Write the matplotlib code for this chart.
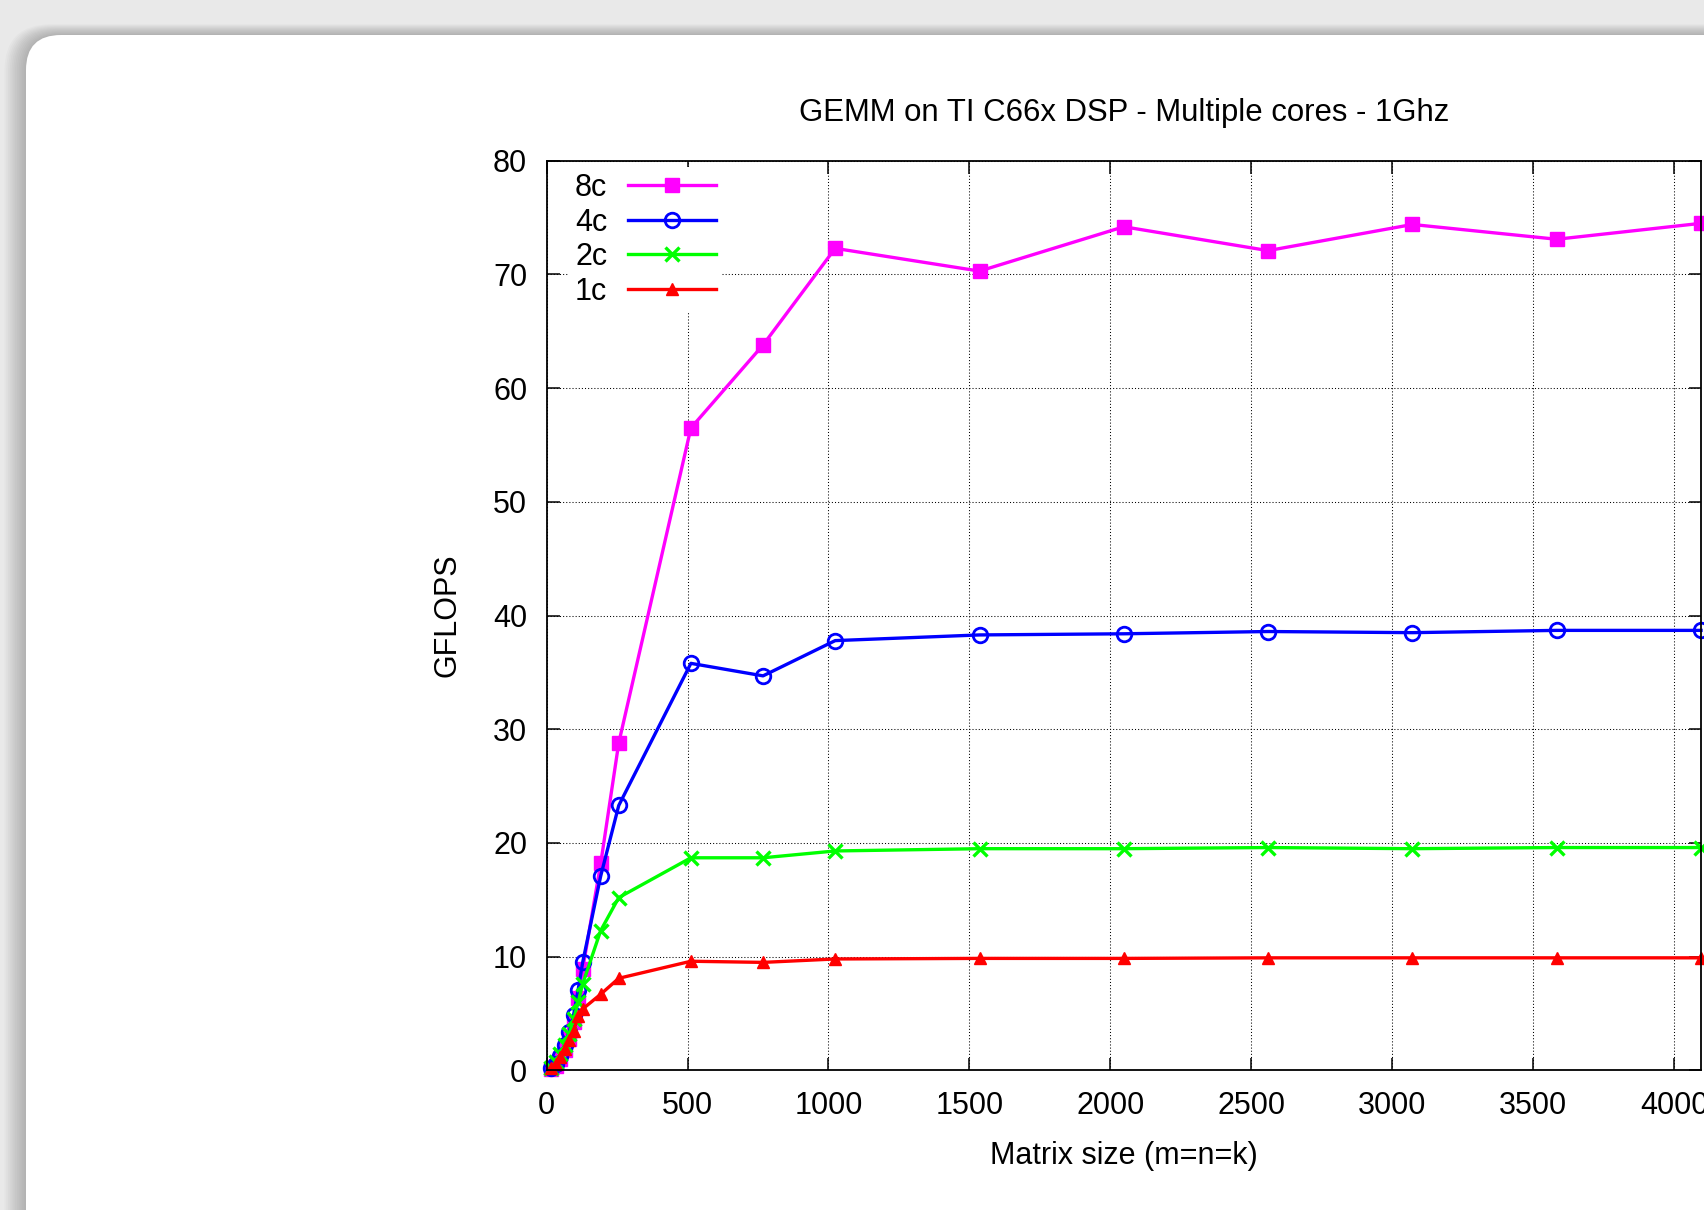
import numpy as np
import matplotlib.pyplot as plt
from matplotlib.patches import FancyBboxPatch

plt.rcParams['font.family'] = ['Liberation Sans', 'DejaVu Sans']

# matrix sizes (m=n=k)
sizes = [16, 32, 48, 64, 80, 96, 112, 128, 192, 256, 512, 768, 1024,
         1536, 2048, 2560, 3072, 3584, 4096]

# GFLOPS per core count
gf_8c = [0.1, 0.4, 1.0, 1.8, 2.8, 4.3, 6.4, 8.9, 18.2, 28.8, 56.5, 63.8, 72.3,
         70.3, 74.2, 72.1, 74.4, 73.1, 74.5]
gf_4c = [0.2, 0.6, 1.3, 2.2, 3.4, 4.9, 7.1, 9.5, 17.1, 23.3, 35.8, 34.7, 37.8,
         38.3, 38.4, 38.6, 38.5, 38.7, 38.7]
gf_2c = [0.2, 0.7, 1.4, 2.2, 3.2, 4.5, 6.0, 7.6, 12.3, 15.2, 18.7, 18.7, 19.3,
         19.5, 19.5, 19.6, 19.5, 19.6, 19.6]
gf_1c = [0.2, 0.6, 1.2, 1.9, 2.7, 3.5, 4.8, 5.4, 6.7, 8.1, 9.6, 9.5, 9.8,
         9.85, 9.85, 9.9, 9.9, 9.9, 9.9]

W, H = 1704, 1210
fs = 22
fig = plt.figure(figsize=(W / 100, H / 100), dpi=100, facecolor='#e9e9e9')

# page background: white rounded panel with soft shadow
bg = fig.add_axes([0, 0, 1, 1], zorder=-5)
bg.set_xlim(0, W)
bg.set_ylim(H, 0)
bg.axis('off')
for i in range(12, 0, -1):
    bg.add_patch(FancyBboxPatch((26 - i * 1.8, 35 - i * 0.9), 2000, 1500,
                                boxstyle='round,pad=0,rounding_size=%d' % (35 + i),
                                fc='black', ec='none', alpha=0.02))
bg.add_patch(FancyBboxPatch((26, 35), 2000, 1500,
                            boxstyle='round,pad=0,rounding_size=35',
                            fc='white', ec='none'))

x0, x1, y0, y1 = 546.6, 1701, 1070.4, 160.8
ax = fig.add_axes([x0 / W, 1 - y0 / H, (x1 - x0) / W, (y0 - y1) / H])
ax.set_facecolor('white')

lw = 2.4
ax.plot(sizes, gf_8c, color='#ff00ff', lw=lw, marker='s', ms=10, label='8c', clip_on=False)
ax.plot(sizes, gf_4c, color='#0000ff', lw=lw, marker='o', ms=10.5, mfc='none', mew=2.0, label='4c', clip_on=False)
ax.plot(sizes, gf_2c, color='#00ff00', lw=lw, marker='x', ms=10.5, mew=2.4, label='2c', clip_on=False)
ax.plot(sizes, gf_1c, color='#ff0000', lw=lw, marker='^', ms=8.5, label='1c', clip_on=False)

ax.set_xlim(0, 4096)
ax.set_ylim(0, 80)
ax.set_xticks(np.arange(0, 4001, 500))
ax.set_yticks(np.arange(0, 81, 10))
ax.grid(True, color='black', linestyle=(0, (1, 2)), linewidth=0.75)
ax.tick_params(direction='in', length=9, width=1.1, top=True, right=True,
               labelsize=fs, colors='black')
ax.tick_params(axis='x', pad=15)
ax.tick_params(axis='y', pad=14)
for s in ax.spines.values():
    s.set_linewidth(1.3)

ax.set_xlabel('Matrix size (m=n=k)', fontsize=fs, labelpad=14)
ax.set_ylabel('GFLOPS', fontsize=fs, labelpad=22)
fig.text((x0 + x1) / 2 / W, 1 - 113 / H, 'GEMM on TI C66x DSP - Multiple cores - 1Ghz',
         ha='center', va='center', fontsize=22.4)

leg = ax.legend(loc='upper left', bbox_to_anchor=(0.014, 1), markerfirst=False,
                frameon=True, fancybox=False, fontsize=fs, handlelength=2.9,
                labelspacing=0.15, borderaxespad=0.2, handletextpad=0.67,
                borderpad=0.2)
leg.get_frame().set_edgecolor('none')
leg.get_frame().set_facecolor('white')
leg.get_frame().set_alpha(1)

fig.savefig('out.png', dpi=100, facecolor=fig.get_facecolor())
